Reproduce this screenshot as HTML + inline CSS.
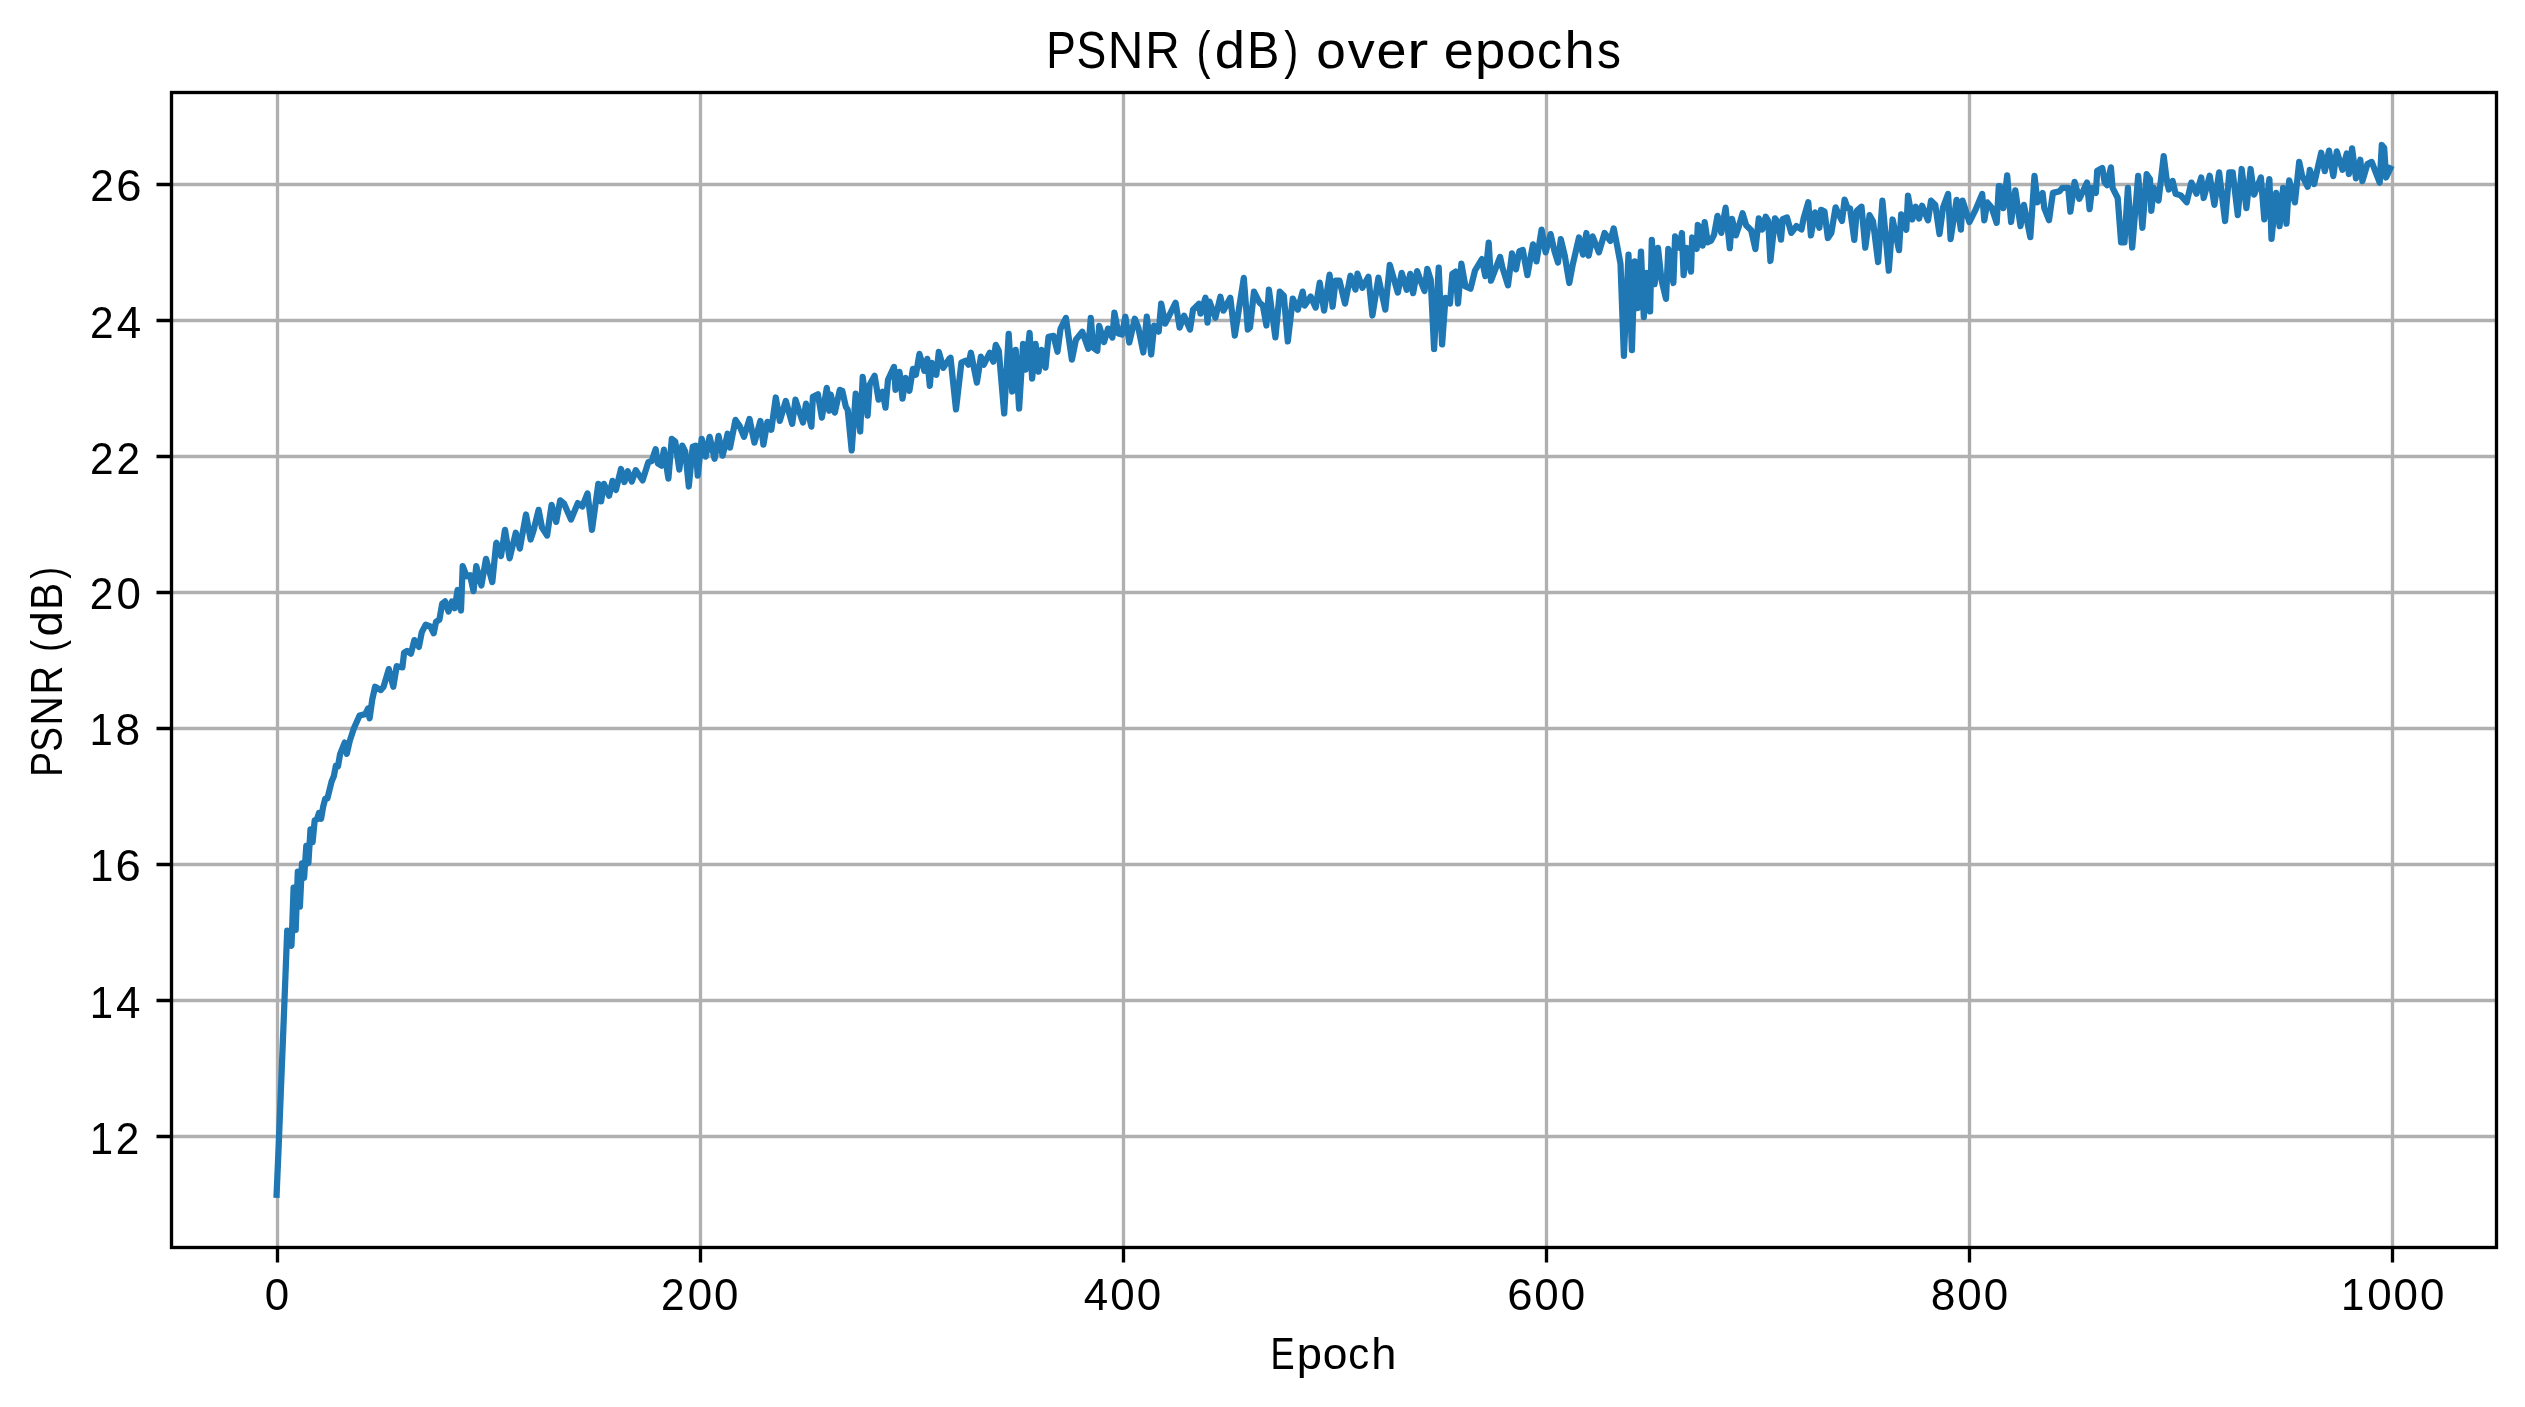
<!DOCTYPE html>
<html><head><meta charset="utf-8"><title>PSNR (dB) over epochs</title><style>
html,body{margin:0;padding:0;background:#fff;width:2525px;height:1407px;overflow:hidden}
svg{display:block;will-change:transform}
text{font-family:"Liberation Sans",sans-serif;fill:#000}
</style></head><body>
<svg width="2525" height="1407" viewBox="0 0 2525 1407">
<rect width="2525" height="1407" fill="#fff"/>
<path d="M277.5 92.5V1247.5M700.5 92.5V1247.5M1123.5 92.5V1247.5M1546.5 92.5V1247.5M1969.5 92.5V1247.5M2392.5 92.5V1247.5M171.5 184.5H2496.5M171.5 320.5H2496.5M171.5 456.5H2496.5M171.5 592.5H2496.5M171.5 728.5H2496.5M171.5 864.5H2496.5M171.5 1000.5H2496.5M171.5 1136.5H2496.5" stroke="#b0b0b0" stroke-width="3.3333" fill="none"/>
<path d="M276.6 1194.7 278.8 1143.0 280.9 1090.0 283.0 1038.0 285.1 985.0 287.2 930.6 289.3 938.0 291.5 945.7 293.6 887.6 295.7 930.0 297.8 871.7 299.9 906.6 302.0 863.3 304.1 877.9 306.3 845.9 308.4 863.1 310.5 829.3 312.6 842.1 314.7 820.2 316.8 819.6 319.0 812.9 321.1 818.7 323.2 806.5 325.3 798.5 327.4 798.4 329.5 790.1 331.6 781.5 333.8 776.3 335.9 765.6 338.0 766.3 340.1 754.1 344.7 742.6 346.8 753.9 349.7 741.1 353.9 728.3 359.6 715.5 365.3 714.1 368.1 708.4 369.6 718.4 372.3 699.2 375.1 686.7 380.8 690.1 383.6 686.7 388.8 669.1 393.3 686.7 396.7 666.2 402.4 667.4 404.1 652.6 407.0 650.9 410.9 653.7 414.4 640.1 418.9 646.9 421.8 632.1 425.7 624.7 430.3 626.4 433.7 633.3 436.0 621.9 439.4 619.6 442.2 603.7 445.1 601.4 448.5 611.6 451.9 601.4 454.7 608.2 457.6 590.0 461.0 610.5 462.7 566.2 466.7 576.4 470.1 575.3 473.5 591.2 476.3 566.2 481.4 585.5 486.0 558.8 492.3 582.1 496.2 543.4 496.5 542.9 501.0 556.0 505.0 529.8 509.6 558.3 515.8 532.7 519.8 548.6 526.0 514.5 530.6 539.5 533.4 531.0 538.6 509.9 542.0 527.6 547.1 535.5 551.6 504.8 556.2 521.9 560.2 500.3 564.1 503.7 571.0 519.6 577.8 503.1 582.3 506.5 587.5 493.4 592.0 529.8 598.3 483.8 601.1 501.4 603.9 483.8 609.1 495.7 612.5 480.9 615.9 490.0 621.0 469.0 624.4 482.1 627.8 471.3 631.8 481.5 635.8 470.1 642.6 480.4 648.3 462.2 651.7 461.0 655.7 449.1 657.9 463.6 661.4 465.6 663.9 449.7 668.4 478.6 671.8 438.8 675.3 441.7 679.3 469.6 682.3 445.7 685.3 451.7 688.8 486.5 692.7 446.7 695.7 445.7 697.7 475.6 701.7 438.8 705.7 456.7 709.6 436.8 714.6 458.7 718.6 435.8 722.6 455.7 727.6 433.8 730.0 447.7 735.5 419.9 739.5 425.8 744.0 436.8 749.5 418.9 754.4 442.7 760.4 420.9 763.4 444.7 767.4 421.8 771.3 429.8 775.8 397.5 779.8 420.9 785.8 400.9 792.2 423.8 795.5 399.7 798.0 407.7 803.0 422.6 806.0 403.7 811.4 426.6 812.9 396.7 817.9 394.2 821.9 417.6 826.8 387.8 829.3 410.6 830.8 394.7 834.8 412.6 839.8 389.8 842.3 390.8 845.8 406.7 847.7 409.6 851.7 450.4 855.7 393.7 860.2 431.5 862.7 376.8 867.6 415.6 869.6 384.8 874.6 375.8 878.6 399.7 882.6 391.7 885.5 407.7 888.0 379.8 894.0 366.9 895.5 389.8 899.5 371.8 902.5 398.7 905.5 377.8 909.4 390.8 912.9 368.9 915.9 374.8 919.4 353.9 924.4 370.9 927.3 358.9 929.8 385.8 931.8 362.9 936.3 374.8 938.8 351.9 943.3 367.9 949.2 358.9 950.5 357.7 956.0 409.4 961.4 362.7 965.9 360.7 968.4 364.7 970.9 352.7 976.9 382.6 980.9 356.7 983.8 364.7 989.8 352.7 993.3 361.7 995.8 344.8 998.8 350.8 1004.2 413.4 1008.7 333.8 1012.2 391.5 1015.7 349.8 1019.1 408.5 1023.1 343.8 1025.6 369.6 1029.6 332.8 1032.1 378.6 1035.6 343.8 1038.6 371.6 1041.5 349.8 1045.5 367.7 1048.5 336.8 1053.5 335.8 1057.5 351.7 1060.5 328.9 1065.9 317.9 1071.9 359.7 1075.9 339.8 1082.3 331.8 1088.3 348.8 1090.8 317.9 1093.3 347.8 1097.3 350.8 1099.2 325.9 1104.0 342.0 1108.0 328.6 1112.4 337.6 1114.4 312.7 1118.4 333.6 1121.9 334.6 1125.4 316.7 1129.3 342.5 1134.8 318.7 1138.3 327.6 1143.3 352.5 1146.8 316.7 1151.2 354.5 1154.2 325.6 1158.7 331.6 1161.2 303.7 1165.2 323.6 1175.6 302.7 1179.6 327.6 1184.1 315.7 1190.0 329.6 1193.0 309.7 1199.0 303.7 1200.5 313.7 1205.5 297.8 1207.5 322.6 1209.5 301.7 1215.4 317.7 1220.4 296.8 1223.4 310.7 1230.3 297.8 1234.8 335.6 1243.8 277.9 1247.8 329.6 1250.0 327.5 1254.0 291.6 1259.5 302.6 1262.9 305.6 1266.4 325.5 1268.9 289.6 1275.4 337.4 1279.8 291.6 1283.8 295.6 1287.8 341.4 1292.8 298.6 1297.8 309.6 1302.7 291.6 1304.7 305.6 1310.7 296.6 1315.7 307.6 1319.7 282.7 1324.1 310.6 1329.6 274.7 1332.6 306.6 1335.6 280.7 1339.5 280.7 1345.0 303.6 1350.5 275.7 1355.5 289.6 1357.5 273.7 1362.4 287.7 1368.4 276.7 1372.4 315.5 1378.4 277.7 1385.3 309.6 1389.8 264.8 1397.8 292.6 1401.7 272.8 1406.8 289.8 1410.2 273.9 1413.1 293.2 1417.1 271.1 1421.0 281.9 1424.5 291.0 1427.3 268.8 1430.7 279.6 1434.1 349.0 1438.7 267.7 1442.1 344.4 1445.5 297.8 1450.0 303.5 1452.3 273.9 1455.7 271.6 1458.0 303.5 1461.4 263.7 1465.4 286.4 1470.5 288.7 1475.0 270.5 1481.9 259.1 1485.3 276.2 1488.7 242.6 1491.0 280.7 1500.1 256.9 1502.3 267.1 1508.0 285.3 1512.0 253.4 1516.0 269.4 1519.4 251.2 1522.8 250.0 1527.4 275.1 1533.0 244.3 1536.5 261.4 1541.6 229.6 1545.6 252.3 1550.6 234.1 1554.5 251.2 1558.0 262.5 1560.8 239.2 1564.8 255.7 1569.3 283.0 1572.7 264.8 1579.0 237.5 1583.0 254.6 1586.4 233.0 1588.7 255.7 1592.6 236.4 1598.9 252.3 1604.6 233.0 1610.3 240.9 1613.7 228.4 1617.1 245.5 1620.5 263.7 1623.9 355.8 1628.5 254.6 1631.9 350.1 1634.7 261.4 1637.6 308.0 1641.0 251.7 1643.8 317.1 1646.7 272.8 1650.1 311.4 1651.8 239.8 1654.6 284.1 1658.0 247.8 1661.4 279.6 1666.0 298.9 1668.3 248.9 1673.4 283.0 1675.1 236.4 1679.6 247.8 1681.9 233.0 1683.6 275.1 1686.5 247.8 1691.0 271.6 1692.2 237.5 1696.7 248.9 1697.8 225.0 1700.0 227.8 1702.6 245.7 1704.7 222.2 1707.7 242.3 1711.1 240.6 1714.1 234.6 1717.5 215.8 1721.3 232.9 1725.6 207.7 1729.8 248.2 1732.0 218.8 1735.8 235.4 1738.4 227.8 1742.6 213.3 1746.1 225.2 1751.2 230.3 1755.4 249.1 1758.8 218.4 1762.3 229.5 1765.7 216.7 1768.2 220.9 1770.4 261.0 1775.0 218.4 1777.6 221.8 1781.0 239.7 1782.7 219.2 1787.0 217.5 1791.3 232.9 1796.4 226.1 1801.5 229.5 1803.6 218.4 1808.3 202.2 1810.9 235.4 1815.1 212.4 1819.4 227.8 1821.1 209.8 1824.5 211.6 1827.9 238.0 1831.3 232.9 1835.6 207.3 1838.2 213.3 1842.0 220.9 1844.6 199.6 1847.5 208.1 1850.0 208.4 1854.3 239.9 1856.8 210.9 1861.5 206.7 1865.3 247.6 1869.6 215.2 1873.0 221.2 1878.1 262.1 1882.4 200.7 1888.8 270.6 1892.6 219.5 1899.0 250.2 1901.2 214.3 1906.3 229.7 1908.0 195.6 1912.3 219.5 1915.7 206.7 1919.1 218.6 1922.1 205.8 1928.0 220.3 1931.0 200.7 1935.3 205.0 1939.5 234.0 1943.0 207.5 1948.1 193.9 1950.6 239.1 1956.6 199.8 1960.9 229.7 1962.6 200.7 1969.4 222.0 1975.4 210.1 1982.2 193.9 1984.3 220.3 1987.3 202.4 1991.6 207.5 1996.7 222.9 1998.8 186.2 2000.0 186.1 2003.4 208.2 2007.2 175.4 2011.1 221.9 2015.3 190.3 2020.5 226.1 2023.9 204.8 2030.3 237.2 2034.5 175.8 2037.5 202.3 2042.6 192.9 2044.3 208.2 2049.0 220.2 2052.9 192.9 2059.7 191.2 2062.3 187.8 2068.2 187.8 2070.4 211.6 2074.6 181.8 2079.3 198.8 2087.0 182.6 2089.6 209.1 2092.1 187.8 2095.9 192.9 2097.2 170.7 2102.3 168.1 2104.5 181.8 2107.0 185.2 2110.9 167.3 2112.6 187.8 2117.7 198.0 2121.1 242.3 2124.5 242.3 2127.9 187.8 2132.2 247.5 2138.2 175.8 2142.4 227.8 2146.7 174.1 2150.0 179.2 2151.3 210.8 2153.8 187.8 2158.5 200.6 2163.7 156.2 2166.6 179.2 2168.8 189.5 2172.6 180.9 2175.6 193.7 2180.7 195.4 2186.7 202.3 2191.4 182.6 2196.5 193.7 2201.2 177.5 2203.7 198.0 2209.7 175.8 2214.4 204.8 2219.1 172.4 2225.1 221.0 2229.3 172.4 2232.7 172.4 2237.8 215.1 2241.7 169.0 2246.4 208.2 2250.6 169.0 2254.1 194.6 2260.9 177.5 2264.3 219.3 2269.4 179.2 2271.5 238.9 2276.2 192.9 2279.6 226.1 2283.1 187.8 2286.5 223.6 2289.2 180.4 2294.9 202.4 2299.2 161.9 2302.0 175.4 2307.7 186.8 2309.8 169.8 2314.1 184.0 2321.2 152.7 2324.8 171.2 2329.0 150.6 2333.3 176.1 2336.8 151.3 2342.5 169.8 2346.8 153.4 2348.9 174.0 2352.1 148.4 2356.0 178.3 2360.3 159.8 2362.4 181.1 2367.4 164.1 2371.7 161.9 2379.7 182.7 2381.8 145.0 2384.2 148.0 2386.1 177.5 2390.3 168.5" stroke="#1f77b4" stroke-width="6.25" fill="none" stroke-linejoin="round" stroke-linecap="square"/>
<rect x="171.5" y="92.5" width="2325.0" height="1155.0" stroke="#000" stroke-width="3.3333" fill="none"/>
<path d="M277.5 1247.5V1262.5M700.5 1247.5V1262.5M1123.5 1247.5V1262.5M1546.5 1247.5V1262.5M1969.5 1247.5V1262.5M2392.5 1247.5V1262.5M171.5 184.5H156.5M171.5 320.5H156.5M171.5 456.5H156.5M171.5 592.5H156.5M171.5 728.5H156.5M171.5 864.5H156.5M171.5 1000.5H156.5M171.5 1136.5H156.5" stroke="#000" stroke-width="3.3333" fill="none"/>
<text y="68" font-size="52.00"><tspan x="1046.25" textLength="29.49" lengthAdjust="spacingAndGlyphs">P</tspan><tspan x="1076.40" textLength="29.73" lengthAdjust="spacingAndGlyphs">S</tspan><tspan x="1107.72" textLength="35.67" lengthAdjust="spacingAndGlyphs">N</tspan><tspan x="1145.25" textLength="34.53" lengthAdjust="spacingAndGlyphs">R</tspan> <tspan x="1196.58" textLength="14.07" lengthAdjust="spacingAndGlyphs">(</tspan><tspan x="1214.88" textLength="30.22" lengthAdjust="spacingAndGlyphs">d</tspan><tspan x="1247.07" textLength="32.40" lengthAdjust="spacingAndGlyphs">B</tspan><tspan x="1284.20" textLength="14.07" lengthAdjust="spacingAndGlyphs">)</tspan> <tspan x="1316.37" textLength="29.56" lengthAdjust="spacingAndGlyphs">o</tspan><tspan x="1347.74" textLength="26.98" lengthAdjust="spacingAndGlyphs">v</tspan><tspan x="1376.49" textLength="30.04" lengthAdjust="spacingAndGlyphs">e</tspan><tspan x="1407.08" textLength="21.33" lengthAdjust="spacingAndGlyphs">r</tspan> <tspan x="1443.70" textLength="30.04" lengthAdjust="spacingAndGlyphs">e</tspan><tspan x="1475.04" textLength="30.25" lengthAdjust="spacingAndGlyphs">p</tspan><tspan x="1506.27" textLength="29.56" lengthAdjust="spacingAndGlyphs">o</tspan><tspan x="1536.96" textLength="25.08" lengthAdjust="spacingAndGlyphs">c</tspan><tspan x="1564.60" textLength="30.19" lengthAdjust="spacingAndGlyphs">h</tspan><tspan x="1596.89" textLength="23.96" lengthAdjust="spacingAndGlyphs">s</tspan></text>
<text y="1369" font-size="44.17"><tspan x="1270.61" textLength="24.09" lengthAdjust="spacingAndGlyphs">E</tspan><tspan x="1296.65" textLength="25.21" lengthAdjust="spacingAndGlyphs">p</tspan><tspan x="1322.65" textLength="24.63" lengthAdjust="spacingAndGlyphs">o</tspan><tspan x="1348.20" textLength="20.90" lengthAdjust="spacingAndGlyphs">c</tspan><tspan x="1371.21" textLength="25.16" lengthAdjust="spacingAndGlyphs">h</tspan></text>
<text y="1310" font-size="44.17"><tspan x="264.79" textLength="24.43" lengthAdjust="spacingAndGlyphs">0</tspan></text>
<text y="1310" font-size="44.17"><tspan x="661.04" textLength="23.55" lengthAdjust="spacingAndGlyphs">2</tspan><tspan x="687.63" textLength="24.43" lengthAdjust="spacingAndGlyphs">0</tspan><tspan x="714.12" textLength="24.43" lengthAdjust="spacingAndGlyphs">0</tspan></text>
<text y="1310" font-size="44.17"><tspan x="1083.65" textLength="24.43" lengthAdjust="spacingAndGlyphs">4</tspan><tspan x="1110.14" textLength="24.43" lengthAdjust="spacingAndGlyphs">0</tspan><tspan x="1136.63" textLength="24.43" lengthAdjust="spacingAndGlyphs">0</tspan></text>
<text y="1310" font-size="44.17"><tspan x="1507.29" textLength="25.28" lengthAdjust="spacingAndGlyphs">6</tspan><tspan x="1534.20" textLength="24.43" lengthAdjust="spacingAndGlyphs">0</tspan><tspan x="1560.69" textLength="24.43" lengthAdjust="spacingAndGlyphs">0</tspan></text>
<text y="1310" font-size="44.17"><tspan x="1930.63" textLength="24.69" lengthAdjust="spacingAndGlyphs">8</tspan><tspan x="1957.25" textLength="24.43" lengthAdjust="spacingAndGlyphs">0</tspan><tspan x="1983.73" textLength="24.43" lengthAdjust="spacingAndGlyphs">0</tspan></text>
<text y="1310" font-size="44.17"><tspan x="2341.00" textLength="23.33" lengthAdjust="spacingAndGlyphs">1</tspan><tspan x="2367.13" textLength="24.43" lengthAdjust="spacingAndGlyphs">0</tspan><tspan x="2393.61" textLength="24.43" lengthAdjust="spacingAndGlyphs">0</tspan><tspan x="2420.10" textLength="24.43" lengthAdjust="spacingAndGlyphs">0</tspan></text>
<text y="1154" font-size="44.17"><tspan x="89.68" textLength="23.33" lengthAdjust="spacingAndGlyphs">1</tspan><tspan x="115.71" textLength="23.55" lengthAdjust="spacingAndGlyphs">2</tspan></text>
<text y="1018" font-size="44.17"><tspan x="89.77" textLength="23.33" lengthAdjust="spacingAndGlyphs">1</tspan><tspan x="115.89" textLength="24.43" lengthAdjust="spacingAndGlyphs">4</tspan></text>
<text y="881" font-size="44.17"><tspan x="89.91" textLength="23.33" lengthAdjust="spacingAndGlyphs">1</tspan><tspan x="115.61" textLength="25.28" lengthAdjust="spacingAndGlyphs">6</tspan></text>
<text y="745" font-size="44.17"><tspan x="89.52" textLength="23.33" lengthAdjust="spacingAndGlyphs">1</tspan><tspan x="115.52" textLength="24.69" lengthAdjust="spacingAndGlyphs">8</tspan></text>
<text y="609" font-size="44.17"><tspan x="89.78" textLength="23.55" lengthAdjust="spacingAndGlyphs">2</tspan><tspan x="116.38" textLength="24.43" lengthAdjust="spacingAndGlyphs">0</tspan></text>
<text y="474" font-size="44.17"><tspan x="89.99" textLength="23.55" lengthAdjust="spacingAndGlyphs">2</tspan><tspan x="116.47" textLength="23.55" lengthAdjust="spacingAndGlyphs">2</tspan></text>
<text y="338" font-size="44.17"><tspan x="90.07" textLength="23.55" lengthAdjust="spacingAndGlyphs">2</tspan><tspan x="116.66" textLength="24.43" lengthAdjust="spacingAndGlyphs">4</tspan></text>
<text y="201" font-size="44.17"><tspan x="90.21" textLength="23.55" lengthAdjust="spacingAndGlyphs">2</tspan><tspan x="116.37" textLength="25.28" lengthAdjust="spacingAndGlyphs">6</tspan></text>
<text transform="rotate(-90)" y="62" font-size="44.17"><tspan x="-776.83" textLength="24.58" lengthAdjust="spacingAndGlyphs">P</tspan><tspan x="-751.74" textLength="24.77" lengthAdjust="spacingAndGlyphs">S</tspan><tspan x="-725.66" textLength="29.72" lengthAdjust="spacingAndGlyphs">N</tspan><tspan x="-694.42" textLength="28.78" lengthAdjust="spacingAndGlyphs">R</tspan> <tspan x="-651.69" textLength="11.73" lengthAdjust="spacingAndGlyphs">(</tspan><tspan x="-636.45" textLength="25.19" lengthAdjust="spacingAndGlyphs">d</tspan><tspan x="-609.65" textLength="27.00" lengthAdjust="spacingAndGlyphs">B</tspan><tspan x="-578.74" textLength="11.73" lengthAdjust="spacingAndGlyphs">)</tspan></text>
</svg></body></html>
